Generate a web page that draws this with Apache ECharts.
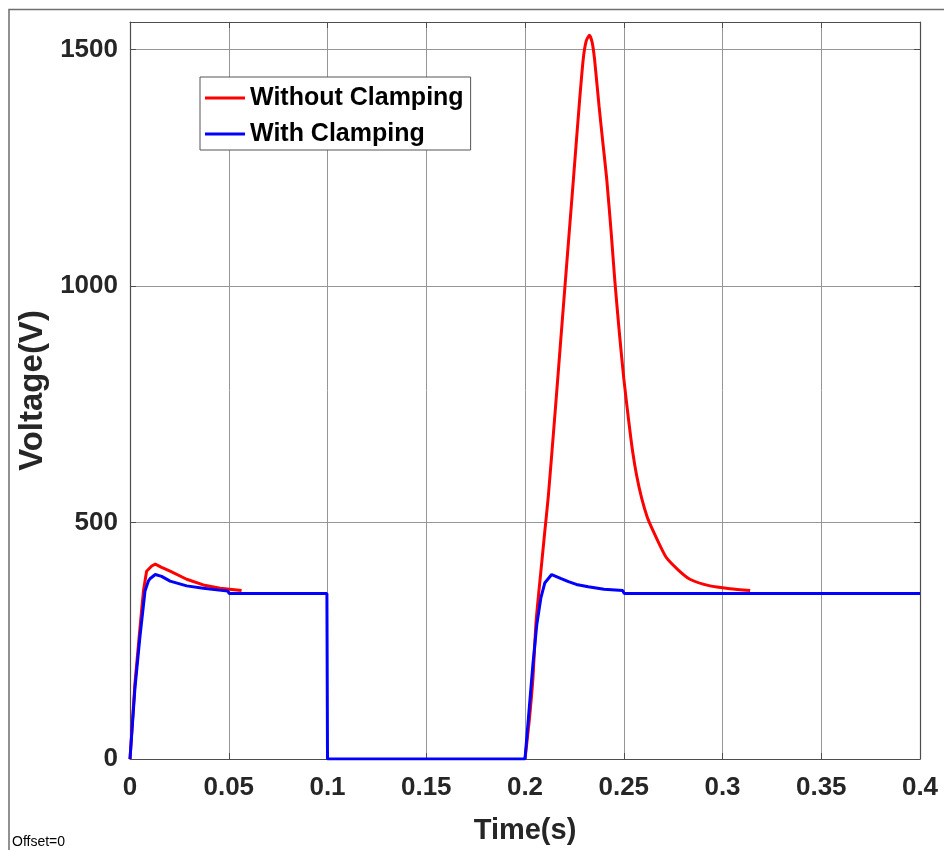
<!DOCTYPE html>
<html>
<head>
<meta charset="utf-8">
<title>Voltage vs Time</title>
<script src="https://cdn.jsdelivr.net/npm/echarts@6/dist/echarts.min.js"></script>
<style>
  html, body { margin: 0; padding: 0; background: #ffffff; }
  #chart { width: 944px; height: 850px; }
</style>
</head>
<body>
<div id="chart"></div>
<script>
// Time axis ticks (s) and voltage ticks (V)
const xTicks = [0, 0.05, 0.1, 0.15, 0.2, 0.25, 0.3, 0.35, 0.4];
const yTicks = [0, 500, 1000, 1500];

// Without clamping: first energisation (0 - 0.0565 s)
const redTime1 = [0, 0.0025, 0.005, 0.0068, 0.0084, 0.011, 0.0128, 0.016, 0.0203, 0.0287, 0.0371, 0.0456, 0.0565];
const redVolt1 = [0, 160, 275, 355, 397, 408, 412, 405, 397, 380, 368, 361, 356];

// Without clamping: second energisation with overshoot (0.2 - 0.314 s)
const redTime2 = [0.2, 0.202, 0.204, 0.2056, 0.208, 0.21, 0.2118, 0.215, 0.218, 0.221, 0.2245, 0.2275, 0.2295,
  0.231, 0.2326, 0.234, 0.2352, 0.2375, 0.2395, 0.2414, 0.2435, 0.2455, 0.2478, 0.25, 0.2525, 0.2545, 0.2565,
  0.2591, 0.262, 0.265, 0.2685, 0.2717, 0.2775, 0.2835, 0.2937, 0.304, 0.314];
const redVolt2 = [0, 75, 170, 290, 395, 480, 555, 720, 880, 1040, 1225, 1385, 1480,
  1518, 1530, 1515, 1480, 1380, 1300, 1225, 1120, 1010, 900, 805, 715, 650, 600,
  551, 510, 481, 450, 425, 400, 380, 366, 360, 356];

// With clamping: whole record (0 - 0.4 s)
const blueTime = [0, 0.0025, 0.005, 0.0076, 0.0093, 0.0101, 0.0128, 0.016, 0.0203, 0.0287, 0.0371, 0.045, 0.0495,
  0.0502, 0.0997, 0.1, 0.2, 0.202, 0.204, 0.206, 0.208, 0.21, 0.2135, 0.218, 0.222, 0.226, 0.232, 0.24, 0.2495,
  0.2502, 0.4];
const blueVolt = [0, 150, 257, 355, 376, 381, 390, 386, 376, 366, 361, 357, 355,
  350, 350, 0, 0, 100, 200, 285, 340, 372, 390, 382, 375, 369, 364, 359, 356,
  350, 350];

const pairs = (t, v) => t.map((x, i) => [x, v[i]]);

const FONT = '"Liberation Sans", Arial, Helvetica, sans-serif';
const GRID_COLOR = '#969696';
const BOX_COLOR = '#4d4d4d';
const TEXT_COLOR = '#262626';

const chart = echarts.init(document.getElementById('chart'), null, { renderer: 'canvas' });

const fmtX = v => String(Math.round(v * 100) / 100);
const fmtY = v => String(Math.round(v));

// Each axis gets its own line/tick objects; onZero off so the box edges stay on the grid border
const boxLine = () => ({ show: true, onZero: false, lineStyle: { color: BOX_COLOR, width: 1.2 } });
const tickStyle = (values) => ({
  show: true, inside: true, length: 6, customValues: values,
  lineStyle: { color: BOX_COLOR, width: 1 }
});

chart.setOption({
  animation: false,
  backgroundColor: '#ffffff',
  textStyle: { fontFamily: FONT },
  grid: { left: 130, right: 24, top: 22, bottom: 88, containLabel: false },
  legend: {
    left: 200, top: 77,
    orient: 'vertical',
    backgroundColor: '#ffffff',
    borderColor: '#555555', borderWidth: 1,
    padding: [8, 7, 3, 5],
    itemGap: 10,
    itemWidth: 40, itemHeight: 3,
    icon: 'rect',
    data: ['Without Clamping', 'With Clamping'],
    textStyle: { fontFamily: FONT, fontWeight: 'bold', fontSize: 25, color: '#000000', lineHeight: 26 }
  },
  xAxis: [
    {
      type: 'value', position: 'bottom',
      min: 0, max: 0.4, interval: 0.05,
      name: 'Time(s)', nameLocation: 'middle', nameGap: 57,
      nameTextStyle: { fontFamily: FONT, fontWeight: 'bold', fontSize: 29, color: TEXT_COLOR },
      axisLine: boxLine(),
      axisTick: tickStyle(xTicks),
      axisLabel: { customValues: xTicks, formatter: fmtX, margin: 16, fontFamily: FONT, fontWeight: 'bold', fontSize: 26, color: TEXT_COLOR },
      splitLine: { show: true, lineStyle: { color: GRID_COLOR, width: 1 } }
    },
    {
      type: 'value', position: 'top',
      min: 0, max: 0.4, interval: 0.05,
      axisLine: boxLine(),
      axisTick: tickStyle(xTicks),
      axisLabel: { show: false },
      splitLine: { show: false }
    }
  ],
  yAxis: [
    {
      type: 'value', position: 'left',
      min: 0, max: 1558, interval: 500,
      name: 'Voltage(V)', nameLocation: 'middle', nameGap: 76, nameRotate: 90,
      nameTextStyle: { fontFamily: FONT, fontWeight: 'bold', fontSize: 33, color: TEXT_COLOR },
      axisLine: boxLine(),
      axisTick: tickStyle(yTicks),
      axisLabel: { customValues: yTicks, formatter: fmtY, margin: 12, fontFamily: FONT, fontWeight: 'bold', fontSize: 26, color: TEXT_COLOR },
      splitLine: { show: true, lineStyle: { color: GRID_COLOR, width: 1 } }
    },
    {
      type: 'value', position: 'right',
      min: 0, max: 1558, interval: 500,
      axisLine: boxLine(),
      axisTick: tickStyle(yTicks),
      axisLabel: { show: false },
      splitLine: { show: false }
    }
  ],
  series: [
    {
      name: 'Without Clamping', type: 'line', data: pairs(redTime1, redVolt1),
      showSymbol: false, symbol: 'none', z: 2,
      itemStyle: { color: '#ff0000' }, lineStyle: { color: '#ff0000', width: 3 }
    },
    {
      name: 'Without Clamping', type: 'line', data: pairs(redTime2, redVolt2),
      showSymbol: false, symbol: 'none', smooth: 0.2, z: 2,
      itemStyle: { color: '#ff0000' }, lineStyle: { color: '#ff0000', width: 3 }
    },
    {
      name: 'With Clamping', type: 'line', data: pairs(blueTime, blueVolt),
      showSymbol: false, symbol: 'none', z: 3,
      itemStyle: { color: '#0000ff' }, lineStyle: { color: '#0000ff', width: 3 }
    }
  ],
  graphic: [
    {
      type: 'rect', silent: true, z: -1,
      shape: { x: 9, y: 9.5, width: 1000, height: 1000 },
      style: { fill: 'none', stroke: '#6e6e6e', lineWidth: 1.5 }
    },
    {
      type: 'text', left: 12, top: 835, silent: true,
      style: { text: 'Offset=0', fontFamily: FONT, fontSize: 14, fill: '#000000' }
    }
  ]
});
</script>
</body>
</html>
